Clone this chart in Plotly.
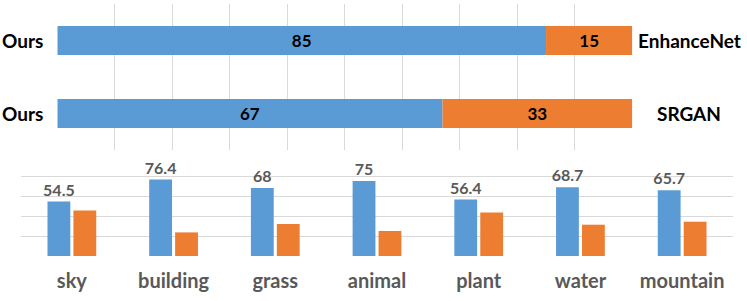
import plotly.graph_objects as go

# ---- data ----
pair_rows = [0, 1]
ours_share = [85, 67]
other_share = [15, 33]
ours_labels = ["Ours", "Ours"]
other_names = ["EnhanceNet", "SRGAN"]

categories = ["sky", "building", "grass", "animal", "plant", "water", "mountain"]
ours_scores = [54.5, 76.4, 68, 75, 56.4, 68.7, 65.7]
other_scores = [45.5, 23.6, 32, 25, 43.6, 31.3, 34.3]

BLUE = "#5B9BD5"
ORANGE = "#ED7D31"
GRID = "#D9D9D9"
GREY = "#595959"
FONT = "Lato"
W, H = 747, 301

fig = go.Figure()

# top: stacked horizontal preference bars
fig.add_trace(go.Bar(
    y=pair_rows, x=ours_share, orientation="h", width=0.4, offsetgroup="p",
    marker=dict(color=BLUE, line=dict(width=0)),
    text=ours_share, textposition="inside", insidetextanchor="middle", textangle=0,
    constraintext="none",
    textfont=dict(family=FONT, size=17, color="black", weight="bold"),
    xaxis="x", yaxis="y", showlegend=False, hoverinfo="skip"))
fig.add_trace(go.Bar(
    y=pair_rows, x=other_share, base=ours_share, orientation="h", width=0.4, offsetgroup="p",
    marker=dict(color=ORANGE, line=dict(width=0)),
    text=other_share, textposition="inside", insidetextanchor="middle", textangle=0,
    constraintext="none",
    textfont=dict(family=FONT, size=17, color="black", weight="bold"),
    xaxis="x", yaxis="y", showlegend=False, hoverinfo="skip"))

# bottom: grouped per-category bars
fig.add_trace(go.Bar(
    x=categories, y=ours_scores, marker=dict(color=BLUE, line=dict(width=0)),
    text=ours_scores, textposition="outside", cliponaxis=False, constraintext="none",
    textfont=dict(family=FONT, size=16, color=GREY, weight="bold"),
    xaxis="x2", yaxis="y2", showlegend=False, hoverinfo="skip"))
fig.add_trace(go.Bar(
    x=categories, y=other_scores, marker=dict(color=ORANGE, line=dict(width=0)),
    xaxis="x2", yaxis="y2", showlegend=False, hoverinfo="skip"))

annotations = []
for r, lab in zip(pair_rows, ours_labels):
    annotations.append(dict(x=45 / W, xref="paper", y=r, yref="y", text=lab,
                            xanchor="right", yanchor="middle", showarrow=False,
                            font=dict(family=FONT, size=19, color="black", weight="bold")))
for r, lab in zip(pair_rows, other_names):
    annotations.append(dict(x=689 / W, xref="paper", y=r, yref="y", text=lab,
                            xanchor="center", yanchor="middle", showarrow=False,
                            font=dict(family=FONT, size=19, color="black", weight="bold")))

fig.update_layout(
    width=W, height=H, autosize=False,
    margin=dict(l=0, r=0, t=0, b=0),
    paper_bgcolor="white", plot_bgcolor="white",
    barmode="group", bargap=0.49, bargroupgap=0.12,
    font=dict(family=FONT),
    annotations=annotations,
    xaxis=dict(domain=[57.3 / W, 632.3 / W], anchor="y", range=[0, 100], dtick=10,
               showgrid=True, gridcolor=GRID, gridwidth=1, zeroline=False,
               showticklabels=False, showline=False, fixedrange=True),
    yaxis=dict(domain=[1 - 150 / H, 1 - 4 / H], anchor="x", range=[1.5, -0.5],
               showgrid=False, zeroline=False, showticklabels=False, showline=False),
    xaxis2=dict(domain=[21 / W, 733 / W], anchor="y2", type="category",
                showgrid=False, zeroline=False, showline=False,
                ticks="outside", ticklen=7, tickcolor="rgba(0,0,0,0)",
                tickfont=dict(family=FONT, size=20, color=GREY, weight="bold")),
    yaxis2=dict(domain=[1 - 256 / H, 1 - 156 / H], anchor="x2", range=[0, 100], dtick=20,
                showgrid=True, gridcolor=GRID, gridwidth=1, zeroline=False,
                showticklabels=False, showline=False),
)

fig.write_html("out.html", config={"displayModeBar": False},
               post_script="document.body.style.margin='0';document.body.style.padding='0';")
